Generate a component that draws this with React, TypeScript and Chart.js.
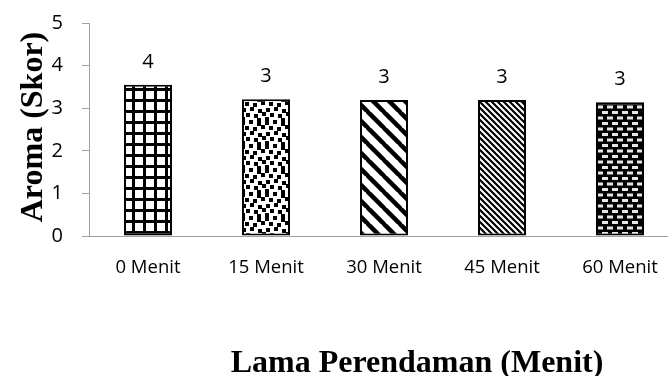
import React, { useEffect, useRef } from 'react';
import { Chart, registerables } from 'chart.js';

Chart.register(...registerables);

// Soaking time categories and mean aroma scores
const categories: string[] = ['0 Menit', '15 Menit', '30 Menit', '45 Menit', '60 Menit'];
const aromaScores: number[] = [3.55, 3.21, 3.19, 3.19, 3.14];
const yMin = 0;
const yMax = 5;
const yStep = 1;
const yTitle = 'Aroma (Skor)';
const xTitle = 'Lama Perendaman (Menit)';

const CANVAS_W = 700;
const CANVAS_H = 376;
const AXIS_GREY = '#a0a0a0';

function makeTile(w: number, h: number, draw: (c: CanvasRenderingContext2D) => void): CanvasPattern {
  const tile = document.createElement('canvas');
  tile.width = w;
  tile.height = h;
  const c = tile.getContext('2d') as CanvasRenderingContext2D;
  draw(c);
  return c.createPattern(tile, 'repeat') as CanvasPattern;
}

// Square grid
function gridPattern() {
  return makeTile(11, 11, (c) => {
    c.fillStyle = '#fff';
    c.fillRect(0, 0, 11, 11);
    c.fillStyle = '#000';
    c.fillRect(0, 0, 11, 3);
    c.fillRect(0, 0, 3, 11);
  });
}

// Confetti squares
function confettiPattern() {
  const S = 24;
  return makeTile(S, S, (c) => {
    c.fillStyle = '#fff';
    c.fillRect(0, 0, S, S);
    c.fillStyle = '#000';
    const pts = [
      [1, 1], [9, 0], [17, 2], [5, 6], [13, 7], [21, 5], [2, 12],
      [10, 11], [18, 13], [6, 17], [14, 18], [22, 16], [1, 21], [17, 22],
    ];
    pts.forEach(([x, y]) => {
      for (const dx of [-S, 0, S]) {
        for (const dy of [-S, 0, S]) c.fillRect(x + dx, y + dy, 4, 4);
      }
    });
  });
}

// Downward diagonal stripes
function diagonalPattern(size: number, width: number) {
  return makeTile(size, size, (c) => {
    c.fillStyle = '#fff';
    c.fillRect(0, 0, size, size);
    c.strokeStyle = '#000';
    c.lineWidth = width;
    c.beginPath();
    for (const k of [-size, 0, size]) {
      c.moveTo(k - 1, -1);
      c.lineTo(k + size + 1, size + 1);
    }
    c.stroke();
  });
}

// Dark background with light dashes
function dashPattern() {
  return makeTile(10, 11, (c) => {
    c.fillStyle = '#000';
    c.fillRect(0, 0, 10, 11);
    c.fillStyle = '#e6e6e6';
    c.fillRect(2, 1, 6, 3);
    c.fillRect(7, 6.5, 6, 3);
    c.fillRect(-3, 6.5, 6, 3);
  });
}

const titlesPlugin = {
  id: 'axisTitles',
  afterDraw(chart: Chart) {
    const ctx = chart.ctx;
    ctx.save();
    ctx.fillStyle = '#000';
    ctx.font = 'bold 32px "Liberation Serif", "Times New Roman", serif';
    ctx.textAlign = 'center';
    ctx.textBaseline = 'alphabetic';
    ctx.fillText(xTitle, 417, 372);
    ctx.translate(42, 127);
    ctx.rotate(-Math.PI / 2);
    ctx.fillText(yTitle, 0, 0);
    ctx.restore();
  },
};

const valueLabelPlugin = {
  id: 'valueLabels',
  afterDatasetsDraw(chart: Chart) {
    const ctx = chart.ctx;
    const meta = chart.getDatasetMeta(0);
    ctx.save();
    ctx.fillStyle = '#000';
    ctx.font = '20px "Open Sans", sans-serif';
    ctx.textAlign = 'center';
    ctx.textBaseline = 'alphabetic';
    meta.data.forEach((bar: any, i: number) => {
      const v = chart.data.datasets[0].data[i] as number;
      ctx.fillText(String(Math.round(v)), bar.x, bar.y - 17);
    });
    ctx.restore();
  },
};

export default function App() {
  const canvasRef = useRef<HTMLCanvasElement | null>(null);

  useEffect(() => {
    const canvas = canvasRef.current;
    if (!canvas) return;
    const fills = [
      gridPattern(),
      confettiPattern(),
      diagonalPattern(16, 4.5),
      diagonalPattern(6, 2.2),
      dashPattern(),
    ];
    const chart = new Chart(canvas, {
      type: 'bar',
      data: {
        labels: categories,
        datasets: [
          {
            data: aromaScores,
            backgroundColor: fills as any,
            borderColor: '#000',
            borderWidth: 2,
            borderSkipped: false,
            barPercentage: 0.407,
            categoryPercentage: 1,
          },
        ],
      },
      options: {
        animation: false,
        responsive: false,
        devicePixelRatio: 1,
        layout: { padding: { left: 0, top: 23, right: 21, bottom: 0 } },
        plugins: {
          legend: { display: false },
          tooltip: { enabled: false },
        },
        scales: {
          x: {
            grid: { display: false, drawTicks: false },
            border: { display: true, color: AXIS_GREY, width: 1 },
            ticks: {
              color: '#000',
              padding: 21,
              font: { family: '"Open Sans", sans-serif', size: 18.5 },
              maxRotation: 0,
            },
            afterFit(scale: any) {
              scale.height = 140;
              scale.paddingLeft = 0;
              scale.paddingRight = 0;
            },
          },
          y: {
            min: yMin,
            max: yMax,
            grid: {
              display: true,
              drawOnChartArea: false,
              drawTicks: true,
              tickLength: 7,
              color: AXIS_GREY,
            },
            border: { display: true, color: AXIS_GREY, width: 1 },
            ticks: {
              stepSize: yStep,
              color: '#000',
              padding: 19,
              font: { family: '"Open Sans", sans-serif', size: 20 },
            },
            afterFit(scale: any) {
              scale.width = 89;
              scale.paddingTop = 0;
              scale.paddingBottom = 0;
            },
          },
        },
      },
      plugins: [valueLabelPlugin, titlesPlugin],
    });
    return () => chart.destroy();
  }, []);

  return (
    <div
      style={{
        position: 'fixed',
        left: 0,
        top: 0,
        width: 668,
        height: 376,
        overflow: 'hidden',
        background: '#fff',
      }}
    >
      <canvas ref={canvasRef} width={CANVAS_W} height={CANVAS_H} style={{ display: 'block' }} />
    </div>
  );
}
